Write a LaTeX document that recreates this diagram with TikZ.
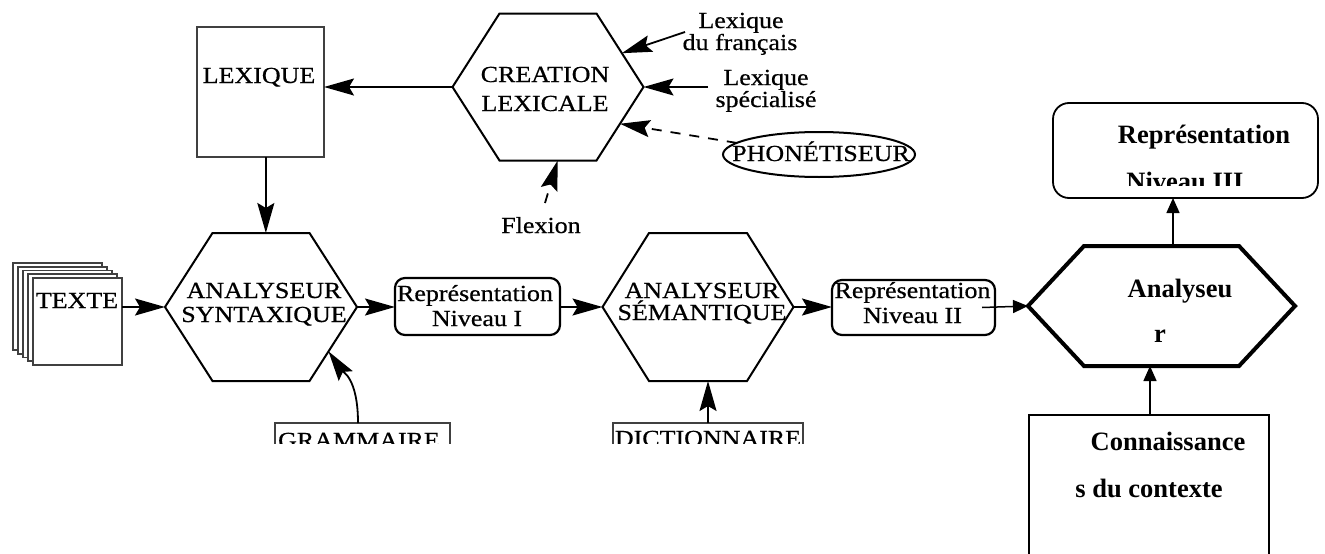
\documentclass[tikz,border=0pt]{standalone}
\usepackage{fontspec}
\setmainfont{Liberation Serif}
\newfontfamily\oldserif[FakeStretch=1.13,FakeBold=0.6]{Liberation Serif}
\usetikzlibrary{arrows.meta,calc,shapes.geometric}

% hexagon drawn from named corner coordinates
% #1 name, #2 cx, #3 cy, #4 half width, #5 half height, #6 half top edge, #7 style
\newcommand\hexshape[7]{%
  \coordinate (#1-w)  at ({#2-#4},#3);
  \coordinate (#1-e)  at ({#2+#4},#3);
  \coordinate (#1-nw) at ({#2-#6},{#3-#5});
  \coordinate (#1-ne) at ({#2+#6},{#3-#5});
  \coordinate (#1-sw) at ({#2-#6},{#3+#5});
  \coordinate (#1-se) at ({#2+#6},{#3+#5});
  \coordinate (#1-n)  at (#2,{#3-#5});
  \coordinate (#1-s)  at (#2,{#3+#5});
  \draw[#7] (#1-w) -- (#1-nw) -- (#1-ne) -- (#1-e) -- (#1-se) -- (#1-sw) -- cycle;
}

\begin{document}
\begin{tikzpicture}[x=1pt,y=-1pt,
  every node/.style={inner sep=0pt,outer sep=0pt},
  oldtxt/.style={font=\oldserif\fontsize{23}{25}\selectfont,anchor=base},
  newtxt/.style={font=\bfseries\fontsize{26.5}{28}\selectfont,anchor=base},
  oldhex/.style={line width=2pt,line join=miter},
  boldhex/.style={line width=4pt,line join=miter},
  greybox/.style={draw=black!75,line width=1.8pt},
  sheet/.style={draw=black!75,fill=white,line width=1.8pt},
  repbox/.style={draw,line width=2.2pt,rounded corners=10pt},
  newbox/.style={draw,line width=1.8pt},
  oldarrow/.style={line width=1.8pt,-{Stealth[length=30pt,width=17pt,inset=5pt]}},
  dasharrow/.style={oldarrow,dash pattern=on 10pt off 9pt},
  newarrow/.style={line width=1.5pt,-{Triangle[length=15pt,width=13pt]}}]

\clip (0,0) rectangle (1325,554);
\fill[white] (0,0) rectangle (1325,554);

% ---- hexagons
\hexshape{cre}{548}{87}{95.5}{73.5}{48.5}{oldhex}
\hexshape{syn}{261}{307}{96}{74}{48.5}{oldhex}
\hexshape{sem}{698}{307}{95.5}{74}{49}{oldhex}
\hexshape{ana}{1161.5}{306}{133.5}{60}{77.5}{boldhex}

\node[oldtxt] (cre-a) at (545,82) {CREATION};
\node[oldtxt] (cre-b) at (545,111) {LEXICALE};
\node[oldtxt] (syn-a) at (264,298) {ANALYSEUR};
\node[oldtxt] (syn-b) at (264,322) {SYNTAXIQUE};
\node[oldtxt] (sem-a) at (702,298) {ANALYSEUR};
\node[oldtxt] (sem-b) at (702,320) {SÉMANTIQUE};
\node[newtxt] (ana-a) at (1180,297) {Analyseu};
\node[newtxt] (ana-b) at (1160,342) {r};

% ---- lexicon box
\node[greybox,minimum width=127pt,minimum height=130pt] (lex) at (260.5,92) {};
\node[oldtxt] (lex-t) at (259,83) {LEXIQUE};

% ---- stack of text sheets
\foreach \i in {0,...,3}
  \draw[sheet] ({13+5*\i},{263+3.75*\i}) rectangle +(89,87);
\node[sheet,minimum width=89pt,minimum height=87pt] (texte) at (77.5,321.5) {};
\node[oldtxt] (texte-t) at (77,308) {TEXTE};

% ---- sources of the lexical creation
\node[oldtxt] (lfr-a) at (741,28) {Lexique};
\node[oldtxt] (lfr-b) at (740,50) {du français};
\coordinate (lfr-tail) at (685,32);
\node[oldtxt] (lsp-a) at (766,85) {Lexique};
\node[oldtxt] (lsp-b) at (766,107) {spécialisé};
\coordinate (lsp-tail) at (708,87);
\node[draw,ellipse,line width=2pt,minimum width=192pt,minimum height=45pt] (phon) at (819,154.5) {};
\node[oldtxt] (phon-t) at (821,161) {PHONÉTISEUR};
\node[oldtxt] (flex) at (541,233) {Flexion};
\coordinate (flex-tail) at (545,203);

% ---- representation boxes
\node[repbox,minimum width=165pt,minimum height=57pt] (rep1) at (477.5,306.5) {};
\node[oldtxt] (rep1-a) at (475,301) {Représentation};
\node[oldtxt] (rep1-b) at (477,326) {Niveau I};
\node[repbox,minimum width=163pt,minimum height=55pt] (rep2) at (913.5,307.5) {};
\node[oldtxt] (rep2-a) at (912.5,298) {Représentation};
\node[oldtxt] (rep2-b) at (912.5,323) {Niveau II};
\node[newbox,rounded corners=16pt,minimum width=265pt,minimum height=95pt] (rep3) at (1185.5,150.5) {};
\node[newtxt] (rep3-a) at (1204,143) {Représentation};
\begin{scope}
  \clip (1060,150) rectangle (1310,185);
  \node[newtxt] (rep3-b) at (1185,190) {Niveau III};
\end{scope}

% ---- context knowledge
\node[newbox,minimum width=240pt,minimum height=160pt] (ctx) at (1149,495) {};
\node[newtxt] (ctx-a) at (1168,450) {Connaissance};
\node[newtxt] (ctx-b) at (1149,497) {s du contexte};

% ---- grammar and dictionary, cut at their lower part
\begin{scope}
  \clip (250,400) rectangle (830,443);
  \node[greybox,minimum width=175pt,minimum height=60pt] (gram) at (362.5,453) {};
  \node[oldtxt] (gram-t) at (359,448) {GRAMMAIRE};
  \node[greybox,minimum width=190pt,minimum height=60pt] (dict) at (708,453) {};
  \node[oldtxt] (dict-t) at (708,446) {DICTIONNAIRE};
\end{scope}

% ---- connectors
\draw[oldarrow] (cre-w) -- (cre-w -| lex.east);
\coordinate (syn-in) at ($(syn-nw)!0.55!(syn-ne)$);
\draw[oldarrow] (lex.south -| syn-in) -- (syn-in);
\draw[oldarrow] (texte.east |- syn-w) -- (syn-w);
\draw[oldarrow] (syn-e) -- (rep1.west |- syn-e);
\draw[oldarrow] (rep1.east |- sem-w) -- (sem-w);
\draw[oldarrow] (sem-e) -- (rep2.west |- sem-e);
\draw[oldarrow] (lfr-tail) -- ($(cre-ne)!0.54!(cre-e)$);
\draw[oldarrow] (lsp-tail) -- (cre-e);
\draw[dasharrow] (phon.172) -- ($(cre-e)!0.5!(cre-se)$);
\draw[dasharrow] (flex-tail) -- ($(cre-sw)!0.6!(cre-se)$);
\draw[oldarrow] ($(gram.north)+(-4.5,0)$) .. controls +(0,-45) and +(14,20) .. ($(syn-e)!0.6!(syn-se)$);
\draw[oldarrow] (dict.north) -- (dict.north |- sem-s);
\draw[newarrow] ($(rep2.east)+(-13,0)$) -- (ana-w);
\draw[newarrow] (ana-n -| 1173,0) -- (rep3.south -| 1173,0);
\draw[newarrow] (ctx.north -| 1150,0) -- (ana-s -| 1150,0);

\end{tikzpicture}
\end{document}
